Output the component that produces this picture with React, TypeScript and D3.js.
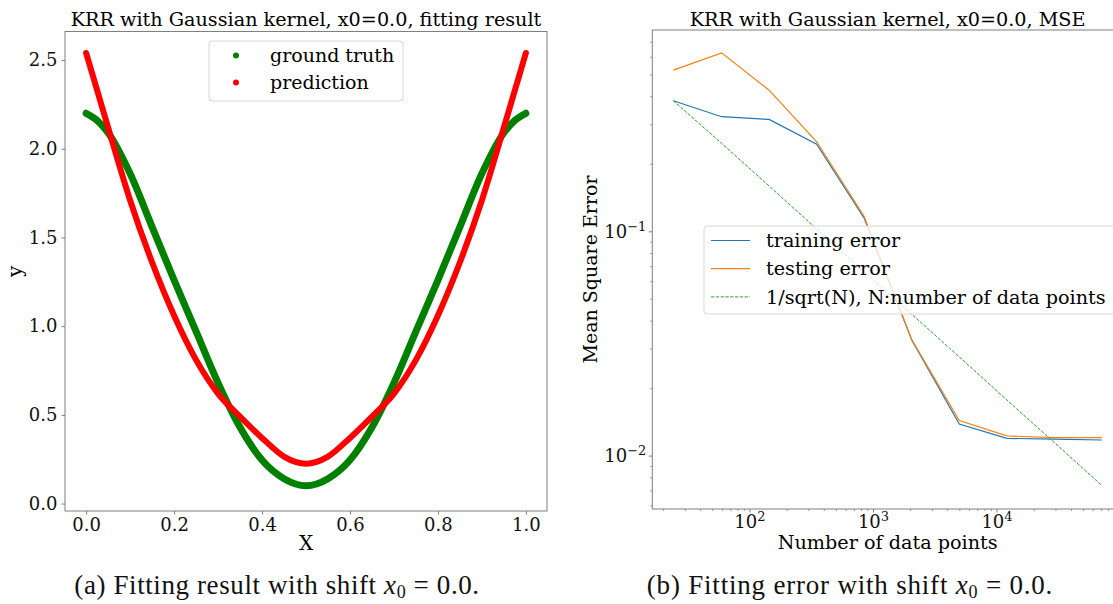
import { useEffect, useRef } from "react"
import * as d3 from "d3"

const W = 1113
const H = 604

// (a) fitting result
const fitX = [0, 0.025, 0.05, 0.1, 0.15, 0.2, 0.25, 0.3, 0.35, 0.4, 0.45, 0.5, 0.55, 0.6, 0.65, 0.7, 0.75, 0.8, 0.85, 0.9, 0.95, 0.975, 1]
const groundTruth = [2.2, 2.16, 2.09, 1.86, 1.56, 1.26, 0.97, 0.68, 0.43, 0.245, 0.14, 0.1, 0.14, 0.245, 0.43, 0.68, 0.97, 1.26, 1.56, 1.86, 2.09, 2.16, 2.2]
const prediction = [2.54, 2.33, 2.12, 1.71, 1.36, 1.06, 0.81, 0.62, 0.49, 0.37, 0.265, 0.225, 0.265, 0.37, 0.49, 0.62, 0.81, 1.06, 1.36, 1.71, 2.12, 2.33, 2.54]
const fitXTicks = [0, 0.2, 0.4, 0.6, 0.8, 1.0]
const fitYTicks = [0, 0.5, 1.0, 1.5, 2.0, 2.5]

// (b) MSE vs number of data points
const nPoints = [24, 59, 143, 347, 841, 2040, 4950, 12000, 29100, 70500]
const trainErr = [0.384, 0.326, 0.317, 0.246, 0.115, 0.0329, 0.0139, 0.012, 0.0119, 0.0118]
const testErr = [0.526, 0.628, 0.428, 0.252, 0.117, 0.0331, 0.0144, 0.0123, 0.0121, 0.0121]
const sqrtRef = [0.384, 0.248, 0.16, 0.103, 0.0664, 0.0429, 0.0277, 0.0178, 0.0115, 0.0074]
const mseXTicks = [100, 1000, 10000]
const mseXExp = ["2", "3", "4"]
const mseYTicks = [0.1, 0.01]
const mseYExp = ["\u22121", "\u22122"]

const FONT = "DejaVu Serif"
const SPINE = "#7f7f7f"

export default function App() {
  const svgRef = useRef<SVGSVGElement>(null)

  useEffect(() => {
    const svg = d3.select(svgRef.current)
    svg.selectAll("*").remove()
    svg.attr("viewBox", [0, 0, W, H])

    // ---------- left panel ----------
    const L = { left: 65, right: 547, top: 31.5, bottom: 511 }
    const x = d3.scaleLinear().domain([-0.048, 1.048]).range([L.left, L.right])
    const y = d3.scaleLinear().domain([-0.042, 2.661]).range([L.bottom, L.top])

    const gl = svg.append("g")

    const line = d3.line<number>()
      .x((_, i) => x(fitX[i]))
      .curve(d3.curveMonotoneX)

    gl.append("path")
      .attr("d", line.y((d) => y(d))(groundTruth))
      .attr("fill", "none")
      .attr("stroke", "green")
      .attr("stroke-width", 7)
      .attr("stroke-linecap", "round")

    gl.append("path")
      .attr("d", line.y((d) => y(d))(prediction))
      .attr("fill", "none")
      .attr("stroke", "red")
      .attr("stroke-width", 6)
      .attr("stroke-linecap", "round")

    gl.append("rect")
      .attr("x", L.left).attr("y", L.top)
      .attr("width", L.right - L.left).attr("height", L.bottom - L.top)
      .attr("fill", "none").attr("stroke", SPINE)

    const xa = gl.append("g")
      .attr("transform", `translate(0,${L.bottom})`)
      .call(d3.axisBottom(x).tickValues(fitXTicks).tickFormat(d3.format(".1f")).tickSize(3.5).tickPadding(4))
    const ya = gl.append("g")
      .attr("transform", `translate(${L.left},0)`)
      .call(d3.axisLeft(y).tickValues(fitYTicks).tickFormat(d3.format(".1f")).tickSize(3.5).tickPadding(4))
    for (const a of [xa, ya]) {
      a.select(".domain").remove()
      a.selectAll("line").attr("stroke", SPINE)
      a.selectAll("text").attr("font-family", FONT).attr("font-size", 18).attr("fill", "#111")
    }

    gl.append("text")
      .attr("x", (L.left + L.right) / 2).attr("y", 26)
      .attr("text-anchor", "middle")
      .attr("font-family", FONT).attr("font-size", 19.2)
      .text("KRR with Gaussian kernel, x0=0.0, fitting result")

    gl.append("text")
      .attr("x", (L.left + L.right) / 2).attr("y", 550)
      .attr("text-anchor", "middle")
      .attr("font-family", FONT).attr("font-size", 20)
      .text("X")

    gl.append("text")
      .attr("transform", `translate(22,${(L.top + L.bottom) / 2}) rotate(-90)`)
      .attr("text-anchor", "middle")
      .attr("font-family", FONT).attr("font-size", 20)
      .text("y")

    // legend
    const lg = gl.append("g")
    lg.append("rect")
      .attr("x", 209).attr("y", 41).attr("width", 194).attr("height", 60).attr("rx", 3)
      .attr("fill", "white").attr("fill-opacity", 0.8).attr("stroke", "#d9d9d9")
    const leg1 = [["ground truth", "green"], ["prediction", "red"]]
    leg1.forEach(([label, color], i) => {
      const cy = 55.5 + i * 27
      lg.append("circle").attr("cx", 236).attr("cy", cy).attr("r", 3).attr("fill", color)
      lg.append("text").attr("x", 270).attr("y", cy).attr("dy", "0.35em")
        .attr("font-family", FONT).attr("font-size", 19).text(label)
    })

    // ---------- right panel ----------
    const R = { left: 652.3, right: 1123, top: 30, bottom: 509 }
    const xr = d3.scaleLog().domain([16.2, 104700]).range([R.left, R.right])
    const yr = d3.scaleLog().domain([0.00581, 0.794]).range([R.bottom, R.top])

    const gr = svg.append("g")

    const rline = d3.line<number>().x((_, i) => xr(nPoints[i]))

    gr.append("path")
      .attr("d", rline.y((d) => yr(d))(trainErr))
      .attr("fill", "none").attr("stroke", "#1f77b4").attr("stroke-width", 1.2)
    gr.append("path")
      .attr("d", rline.y((d) => yr(d))(testErr))
      .attr("fill", "none").attr("stroke", "#ff7f0e").attr("stroke-width", 1.2)
    gr.append("path")
      .attr("d", rline.y((d) => yr(d))(sqrtRef))
      .attr("fill", "none").attr("stroke", "#2ca02c").attr("stroke-width", 1)
      .attr("stroke-dasharray", "3.3 1.5")

    gr.append("rect")
      .attr("x", R.left).attr("y", R.top)
      .attr("width", R.right - R.left).attr("height", R.bottom - R.top)
      .attr("fill", "none").attr("stroke", SPINE)

    // minor ticks
    const [xd0, xd1] = xr.domain()
    const minorX = xr.ticks().filter((v) => v >= xd0 && v <= xd1 && !mseXTicks.includes(v))
    gr.append("g").selectAll("line").data(minorX).join("line")
      .attr("x1", (d) => xr(d)).attr("x2", (d) => xr(d))
      .attr("y1", R.bottom).attr("y2", R.bottom + 2)
      .attr("stroke", SPINE).attr("stroke-width", 0.8)
    const [yd0, yd1] = yr.domain()
    const minorY = yr.ticks().filter((v) => v >= yd0 && v <= yd1 && !mseYTicks.some((t) => Math.abs(t - v) < 1e-9))
    gr.append("g").selectAll("line").data(minorY).join("line")
      .attr("y1", (d) => yr(d)).attr("y2", (d) => yr(d))
      .attr("x1", R.left).attr("x2", R.left - 2)
      .attr("stroke", SPINE).attr("stroke-width", 0.8)

    // major ticks with 10^k labels
    mseXTicks.forEach((v, i) => {
      const px = xr(v)
      gr.append("line").attr("x1", px).attr("x2", px).attr("y1", R.bottom).attr("y2", R.bottom + 3.5).attr("stroke", SPINE)
      const t = gr.append("text").attr("x", px).attr("y", R.bottom + 19).attr("text-anchor", "middle")
        .attr("font-family", FONT).attr("font-size", 18).attr("fill", "#111")
      t.append("tspan").text("10")
      t.append("tspan").attr("dy", -7).attr("font-size", 13).text(mseXExp[i])
    })
    mseYTicks.forEach((v, i) => {
      const py = yr(v)
      gr.append("line").attr("y1", py).attr("y2", py).attr("x1", R.left).attr("x2", R.left - 3.5).attr("stroke", SPINE)
      const t = gr.append("text").attr("x", R.left - 6).attr("y", py + 6).attr("text-anchor", "end")
        .attr("font-family", FONT).attr("font-size", 18).attr("fill", "#111")
      t.append("tspan").text("10")
      t.append("tspan").attr("dy", -7).attr("font-size", 13).text(mseYExp[i])
    })

    gr.append("text")
      .attr("x", (R.left + R.right) / 2).attr("y", 26)
      .attr("text-anchor", "middle")
      .attr("font-family", FONT).attr("font-size", 19.2)
      .text("KRR with Gaussian kernel, x0=0.0, MSE")

    gr.append("text")
      .attr("x", (R.left + R.right) / 2).attr("y", 549)
      .attr("text-anchor", "middle")
      .attr("font-family", FONT).attr("font-size", 19.2)
      .text("Number of data points")

    gr.append("text")
      .attr("transform", `translate(597,${(R.top + R.bottom) / 2}) rotate(-90)`)
      .attr("text-anchor", "middle")
      .attr("font-family", FONT).attr("font-size", 19)
      .text("Mean Square Error")

    // legend
    const rg = gr.append("g")
    rg.append("rect")
      .attr("x", 704).attr("y", 226).attr("width", 420).attr("height", 88).attr("rx", 3)
      .attr("fill", "white").attr("fill-opacity", 0.8).attr("stroke", "#d9d9d9")
    const leg2: [string, string, string | null][] = [
      ["training error", "#1f77b4", null],
      ["testing error", "#ff7f0e", null],
      ["1/sqrt(N), N:number of data points", "#2ca02c", "3.3 1.5"],
    ]
    leg2.forEach(([label, color, dash], i) => {
      const cy = 240.5 + i * 28.2
      const l = rg.append("line").attr("x1", 711).attr("x2", 750).attr("y1", cy).attr("y2", cy)
        .attr("stroke", color).attr("stroke-width", dash ? 1 : 1.2)
      if (dash) l.attr("stroke-dasharray", dash)
      rg.append("text").attr("x", 766).attr("y", cy).attr("dy", "0.35em")
        .attr("font-family", FONT).attr("font-size", 19.2).text(label)
    })

    // ---------- captions ----------
    const captions = [["(a) Fitting result with shift ", 277, 0.6], ["(b) Fitting error with shift ", 850, 0.8]] as const
    captions.forEach(([label, cx, ls]) => {
      const t = svg.append("text").attr("x", cx).attr("y", 594).attr("text-anchor", "middle")
        .attr("font-family", "Liberation Serif").attr("font-size", 27).attr("letter-spacing", ls)
        .attr("fill", "#111")
      t.append("tspan").text(label)
      t.append("tspan").attr("font-style", "italic").text("x")
      t.append("tspan").attr("font-size", 18).attr("dy", 4).text("0")
      t.append("tspan").attr("dy", -4).text(" = 0.0.")
    })
  }, [])

  return (
    <svg
      ref={svgRef}
      width={W}
      height={H}
      style={{ position: "absolute", left: 0, top: 0, background: "white" }}
    />
  )
}
